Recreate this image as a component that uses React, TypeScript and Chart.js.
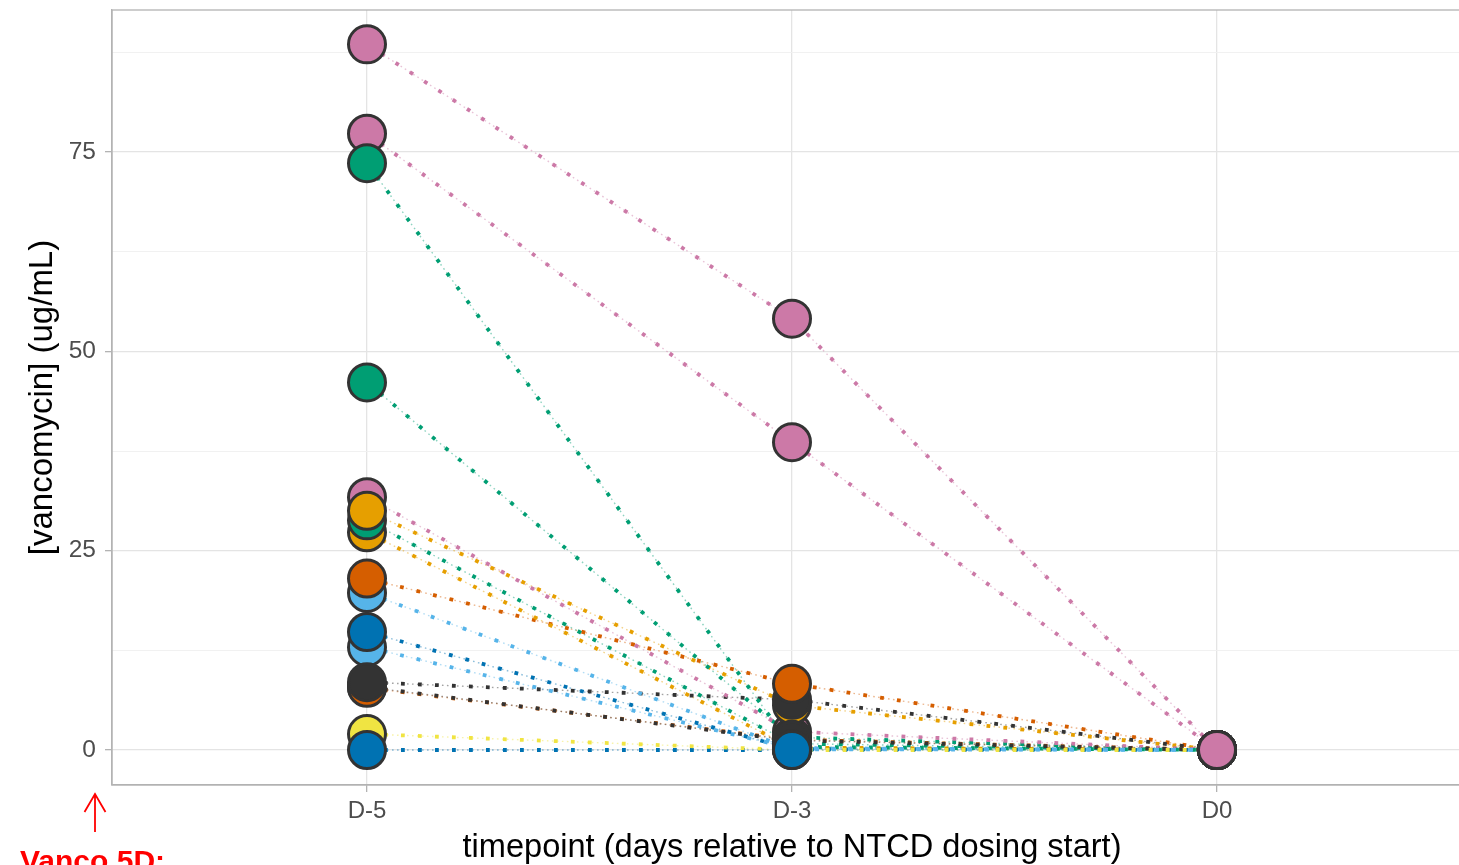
import React, { useEffect, useRef } from "react";
import { Chart, registerables } from "chart.js";

Chart.register(...registerables);

// ---------- data ----------
const timepoints = ["D-5", "D-3", "D0"];
const yTickLabels = [0, 25, 50, 75];
const yGridValues = [0, 12.5, 25, 37.5, 50, 62.5, 75, 87.5];

const palette: Record<string, string> = {
  black: "#333333",
  orange: "#E69F00",
  skyblue: "#56B4E9",
  green: "#009E73",
  yellow: "#F0E442",
  blue: "#0072B2",
  vermillion: "#D55E00",
  pink: "#CC79A7",
};

// one entry per subject (mouse); order = drawing order at D-5
const subjectGroup = [
  "skyblue", "skyblue", "yellow", "black", "vermillion",
  "pink", "green", "pink", "pink", "green",
  "orange", "green", "orange", "black", "vermillion",
  "blue", "blue",
];
const vancoD5 = [12.9, 19.7, 2.0, 7.9, 7.8, 77.3, 73.6, 88.5, 31.7, 46.1, 27.3, 28.8, 30.0, 8.5, 21.5, 14.8, 0];
const vancoD3 = [0.2, 0.1, 0, 1.2, 1.3, 38.6, 0.4, 54.1, 2.3, 1.6, 0.3, 0.8, 5.6, 6.3, 8.3, 0.1, 0];
const vancoD0 = [0, 0, 0, 0, 0, 0, 0, 0, 0, 0, 0, 0, 0, 0, 0, 0, 0];

const seriesByTime = [vancoD5, vancoD3, vancoD0];

// marker stacking (subject indices, first drawn first) per timepoint
const stackD5 = [0, 1, 2, 3, 4, 5, 6, 7, 8, 9, 10, 11, 12, 13, 14, 15, 16];
const stackD3 = [0, 1, 2, 5, 6, 7, 8, 9, 10, 11, 12, 4, 3, 13, 14, 15, 16];
const stackD0 = [0, 1, 2, 3, 4, 6, 9, 10, 11, 12, 13, 14, 15, 16, 5, 8, 7];
const stacks = [stackD5, stackD3, stackD0];

// ---------- helpers ----------
function withAlpha(hex: string, a: number) {
  const n = parseInt(hex.slice(1), 16);
  return `rgba(${(n >> 16) & 255},${(n >> 8) & 255},${n & 255},${a})`;
}

const FONT = "'Liberation Sans', Arial, Helvetica, sans-serif";
const CANVAS_W = 1472;
const CANVAS_H = 865;

const panelPlugin = {
  id: "panelAndNote",
  afterDraw(chart: any) {
    const { ctx, chartArea } = chart;
    ctx.save();
    ctx.strokeStyle = "#b3b3b3";
    ctx.lineWidth = 1.3;
    ctx.strokeRect(chartArea.left, chartArea.top, chartArea.right - chartArea.left, chartArea.bottom - chartArea.top);
    // red annotation
    ctx.strokeStyle = "#ff0000";
    ctx.lineWidth = 1.8;
    ctx.beginPath();
    ctx.moveTo(95, 832);
    ctx.lineTo(95, 794);
    ctx.moveTo(84.5, 812);
    ctx.lineTo(95, 794);
    ctx.lineTo(105.5, 812);
    ctx.stroke();
    ctx.fillStyle = "#ff0000";
    ctx.font = `bold 30px ${FONT}`;
    ctx.textBaseline = "alphabetic";
    ctx.textAlign = "left";
    ctx.fillText("Vanco 5D:", 20, 871);
    ctx.restore();
  },
};

export default function App() {
  const ref = useRef<HTMLCanvasElement | null>(null);

  useEffect(() => {
    if (!ref.current) return;
    const datasets: any[] = [];

    // lines (beneath markers)
    subjectGroup.forEach((g, i) => {
      const data = seriesByTime.map((s, t) => ({ x: t, y: s[i] }));
      datasets.push({
        type: "line",
        data,
        borderColor: withAlpha(palette[g], 0.45),
        borderWidth: 1.4,
        borderDash: [1.6, 3.4],
        pointRadius: 0,
        fill: false,
        order: 3,
      });
      datasets.push({
        type: "line",
        data,
        borderColor: palette[g],
        borderWidth: 3.8,
        borderDash: [3.8, 13.2],
        borderCapStyle: "butt",
        pointRadius: 0,
        fill: false,
        order: 2,
      });
    });

    // markers per timepoint
    seriesByTime.forEach((s, t) => {
      const ord = stacks[t];
      datasets.push({
        type: "scatter",
        data: ord.map((i) => ({ x: t, y: s[i] })),
        pointBackgroundColor: ord.map((i) => palette[subjectGroup[i]]),
        pointBorderColor: "#333333",
        pointBorderWidth: 3,
        pointRadius: 18.5,
        showLine: false,
        order: 1 - t * 0.1,
      });
    });

    const chart = new Chart(ref.current, {
      type: "scatter",
      data: { datasets },
      plugins: [panelPlugin],
      options: {
        animation: false,
        responsive: false,
        devicePixelRatio: 1,
        layout: { autoPadding: false, padding: { top: 10, left: 0, right: 0, bottom: 0 } },
        plugins: { legend: { display: false }, tooltip: { enabled: false } },
        scales: {
          x: {
            type: "linear",
            min: -0.6,
            max: 2.6,
            afterBuildTicks: (scale: any) => {
              scale.ticks = timepoints.map((_, i) => ({ value: i }));
            },
            afterFit: (scale: any) => {
              scale.height = 80;
              scale.paddingLeft = 0;
              scale.paddingRight = 0;
            },
            ticks: {
              callback: (v: any) => timepoints[v] ?? "",
              color: "#4d4d4d",
              font: { family: FONT, size: 24 },
              padding: 5,
              maxRotation: 0,
              autoSkip: false,
            },
            grid: {
              color: "#e4e4e4",
              lineWidth: 1.3,
              tickColor: "#b3b3b3",
              tickLength: 7,
            },
            border: { display: true, color: "#b3b3b3", width: 1.3 },
            title: {
              display: true,
              text: "timepoint (days relative to NTCD dosing start)",
              color: "#000000",
              font: { family: FONT, size: 32.6 },
              padding: { top: 0, bottom: -3 },
            },
          },
          y: {
            type: "linear",
            min: -4.39,
            max: 92.81,
            afterBuildTicks: (scale: any) => {
              scale.ticks = yGridValues.map((v) => ({ value: v }));
            },
            afterFit: (scale: any) => {
              scale.width = 112;
              scale.paddingTop = 0;
              scale.paddingBottom = 0;
            },
            ticks: {
              callback: (v: any) => (yTickLabels.includes(v) ? String(v) : ""),
              color: "#4d4d4d",
              font: { family: FONT, size: 24.5 },
              padding: 9,
              autoSkip: false,
            },
            grid: {
              color: (c: any) => (yTickLabels.includes(c.tick?.value) ? "#e4e4e4" : "#efefef"),
              lineWidth: (c: any) => (yTickLabels.includes(c.tick?.value) ? 1.3 : 0.9),
              tickColor: (c: any) => (yTickLabels.includes(c.tick?.value) ? "#b3b3b3" : "rgba(0,0,0,0)"),
              tickLength: 7,
            },
            border: { display: true, color: "#b3b3b3", width: 1.3 },
            title: {
              display: true,
              text: "[vancomycin] (ug/mL)",
              color: "#000000",
              font: { family: FONT, size: 33 },
              padding: { top: 23, bottom: 0 },
            },
          },
        },
      },
    } as any);

    return () => chart.destroy();
  }, []);

  return (
    <div style={{ position: "fixed", left: 0, top: 0, width: 1459, height: 865, overflow: "hidden", background: "#ffffff" }}>
      <canvas ref={ref} width={CANVAS_W} height={CANVAS_H} style={{ width: CANVAS_W, height: CANVAS_H, display: "block" }} />
    </div>
  );
}
